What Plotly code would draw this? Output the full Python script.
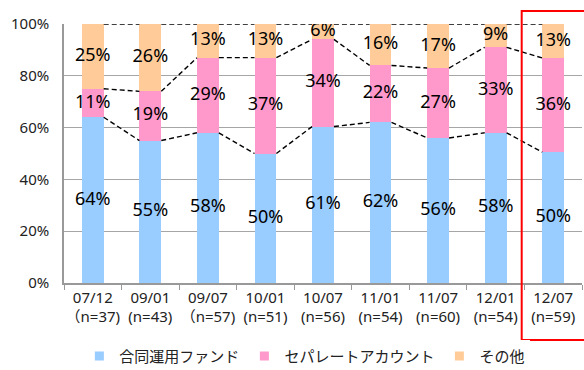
import plotly.graph_objects as go

categories = ["07/12<br>（n=37)", "09/01<br>(n=43)", "09/07<br>（n=57)", "10/01<br>(n=51)",
              "10/07<br>(n=56)", "11/01<br>(n=54)", "11/07<br>(n=60)", "12/01<br>(n=54)",
              "12/07<br>(n=59)"]
fund = [64, 55, 58, 50, 61, 62, 56, 58, 50]
separate = [11, 19, 29, 37, 34, 22, 27, 33, 36]
other = [25, 26, 13, 13, 6, 16, 17, 9, 13]
series_names = ["合同運用ファンド", "セパレートアカウント", "その他"]
colors = ["#99CCFF", "#FF99CC", "#FFCC99"]

FONT = "Noto Sans, Noto Sans CJK JP, sans-serif"
BARW = 0.38

series = [fund, separate, other]
totals = [a + b + c for a, b, c in zip(fund, separate, other)]
norm = [[v / t * 100 for v, t in zip(s, totals)] for s in series]
cum = []
run = [0.0] * len(categories)
for s in norm:
    run = [r + v for r, v in zip(run, s)]
    cum.append(list(run))

fig = go.Figure()
for name, s, col in zip(series_names, series, colors):
    fig.add_trace(go.Bar(x=categories, y=s, name=name, marker=dict(color=col, line=dict(width=0)),
                         showlegend=False, hoverinfo="skip"))

n = len(categories)
for level in cum:
    xs, ys = [], []
    for i in range(n - 1):
        xs += [i + BARW / 2, i + 1 - BARW / 2, None]
        ys += [level[i], level[i + 1], None]
    fig.add_trace(go.Scatter(x=xs, y=ys, xaxis="x2", mode="lines",
                             line=dict(color="black", width=1.4, dash="5px,3px"),
                             showlegend=False, hoverinfo="skip"))

lx, ly, lt = [], [], []
prev = [0.0] * n
for s, raw, level in zip(norm, series, cum):
    for i in range(n):
        lx.append(i)
        ly.append(prev[i] + s[i] / 2)
        lt.append(f"{raw[i]}%")
    prev = level
fig.add_trace(go.Scatter(x=lx, y=ly, text=lt, xaxis="x2", mode="text",
                         textfont=dict(family=FONT, size=18, color="black"),
                         showlegend=False, hoverinfo="skip"))

for name, col in zip(series_names, colors):
    fig.add_trace(go.Scatter(x=[None], y=[None], mode="markers", name=name,
                             marker=dict(symbol="square", size=9, color=col)))

fig.update_layout(
    width=584, height=370,
    margin=dict(l=64, r=2, t=24, b=87, autoexpand=False),
    paper_bgcolor="white", plot_bgcolor="white",
    barmode="stack", barnorm="percent", bargap=1 - BARW,
    font=dict(family=FONT, size=15, color="#222"),
    showlegend=True,
    legend=dict(orientation="h", x=0.465, xanchor="center", y=-0.283, yanchor="middle",
                font=dict(size=15, color="#222"), itemwidth=30, traceorder="normal"),
    xaxis=dict(type="category", range=[-0.5, n - 0.5], showline=True, linecolor="#999",
               linewidth=1.5, ticks="outside", tickson="boundaries", ticklen=5,
               tickcolor="#999", showgrid=False, tickfont=dict(size=15), tickangle=0,
               automargin=False),
    xaxis2=dict(overlaying="x", range=[-0.5, n - 0.5], visible=False),
    yaxis=dict(range=[0, 100], dtick=20, ticksuffix="%", showgrid=True, gridcolor="#A6A6A6",
               gridwidth=1, showline=True, linecolor="#999", linewidth=1.5, ticks="",
               ticklabelstandoff=10, tickfont=dict(size=15), zeroline=False,
               automargin=False),
    shapes=[dict(type="rect", xref="paper", yref="paper",
                 x0=(521.7 - 64) / 518, x1=(590 - 64) / 518,
                 y0=(283 - 340) / 259, y1=(283 - 11) / 259,
                 line=dict(color="#FF0000", width=2), fillcolor="rgba(0,0,0,0)")],
)

fig.write_html("out.html")
